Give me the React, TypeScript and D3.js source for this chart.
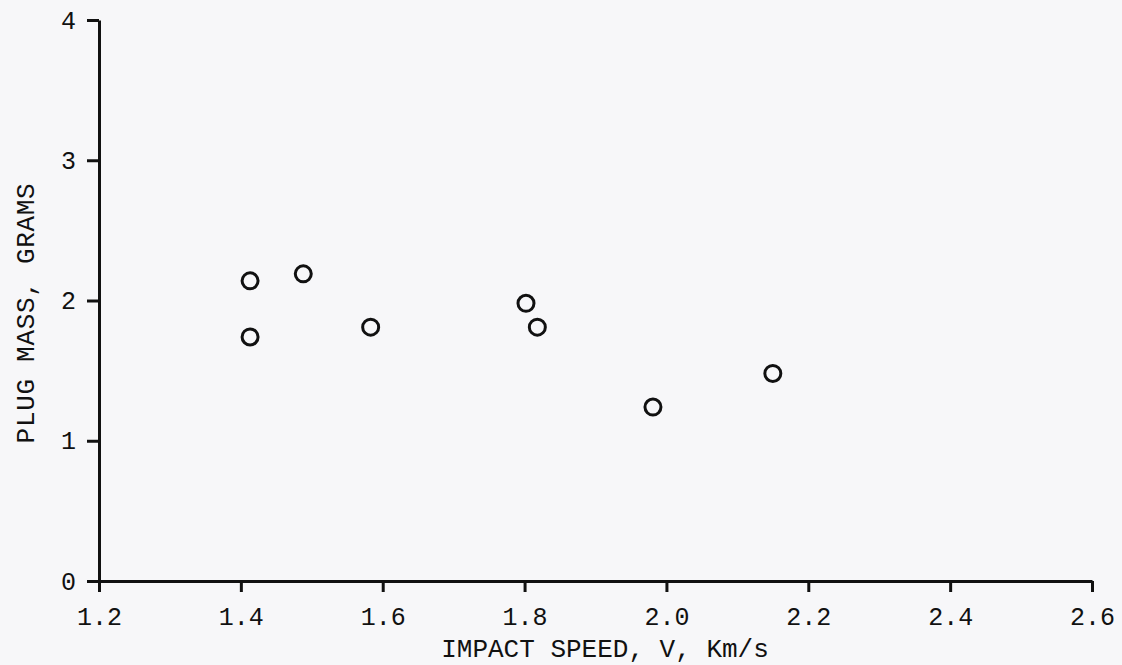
import { useEffect, useRef } from 'react';
import * as d3 from 'd3';

// impact speed (km/s) vs plug mass (g)
const speeds = [1.413, 1.488, 1.413, 1.583, 1.802, 1.818, 1.981, 2.15];
const masses = [2.14, 2.19, 1.74, 1.81, 1.98, 1.81, 1.24, 1.48];

const xTicks = [1.2, 1.4, 1.6, 1.8, 2.0, 2.2, 2.4, 2.6];
const yTicks = [0, 1, 2, 3, 4];

const xTitle = 'IMPACT SPEED, V, Km/s';
const yTitle = 'PLUG MASS, GRAMS';

const W = 1122;
const H = 665;
const font = '"Liberation Mono", "DejaVu Sans Mono", monospace';

const App = () => {
  const ref = useRef<SVGSVGElement | null>(null);

  useEffect(() => {
    if (!ref.current) return;
    const svg = d3.select(ref.current);
    svg.selectAll('*').remove();

    const margin = { top: 20, right: 30, bottom: 84, left: 99 };

    svg.append('rect').attr('width', W).attr('height', H).attr('fill', '#f7f7f9');

    const x = d3.scaleLinear().domain([1.2, 2.6]).range([margin.left, W - margin.right]);
    const y = d3.scaleLinear().domain([0, 4]).range([H - margin.bottom, margin.top]);

    const xAxis = svg.append('g')
      .attr('transform', `translate(0, ${H - margin.bottom})`)
      .call(d3.axisBottom(x).tickValues(xTicks).tickFormat(d3.format('.1f')).tickSize(11).tickSizeOuter(0).tickPadding(15));

    const yAxis = svg.append('g')
      .attr('transform', `translate(${margin.left}, 0)`)
      .call(d3.axisLeft(y).tickValues(yTicks).tickFormat(d3.format('d')).tickSize(12).tickSizeOuter(0).tickPadding(11));

    [xAxis, yAxis].forEach(g => {
      g.select('.domain').attr('stroke', '#111').attr('stroke-width', 3);
      g.selectAll('.tick line').attr('stroke', '#111').attr('stroke-width', 3);
      g.selectAll('.tick text')
        .attr('fill', '#111')
        .style('font-family', font)
        .style('font-size', '25px');
    });

    svg.append('text')
      .attr('x', 605)
      .attr('y', 657)
      .attr('text-anchor', 'middle')
      .style('font-family', font)
      .style('font-size', '26px')
      .attr('fill', '#111')
      .text(xTitle);

    svg.append('text')
      .attr('transform', `translate(34, 313) rotate(-90)`)
      .attr('text-anchor', 'middle')
      .style('font-family', font)
      .style('font-size', '26px')
      .style('letter-spacing', '0.7px')
      .attr('fill', '#111')
      .text(yTitle);

    svg.append('g')
      .selectAll('circle')
      .data(speeds.map((s, i) => ({ s, m: masses[i] })))
      .enter()
      .append('circle')
      .attr('cx', d => x(d.s))
      .attr('cy', d => y(d.m))
      .attr('r', 8)
      .attr('fill', 'none')
      .attr('stroke', '#111')
      .attr('stroke-width', 3);
  }, []);

  return (
    <svg ref={ref} width={W} height={H} style={{ position: 'absolute', left: 0, top: 0 }}></svg>
  );
};

export default App;
